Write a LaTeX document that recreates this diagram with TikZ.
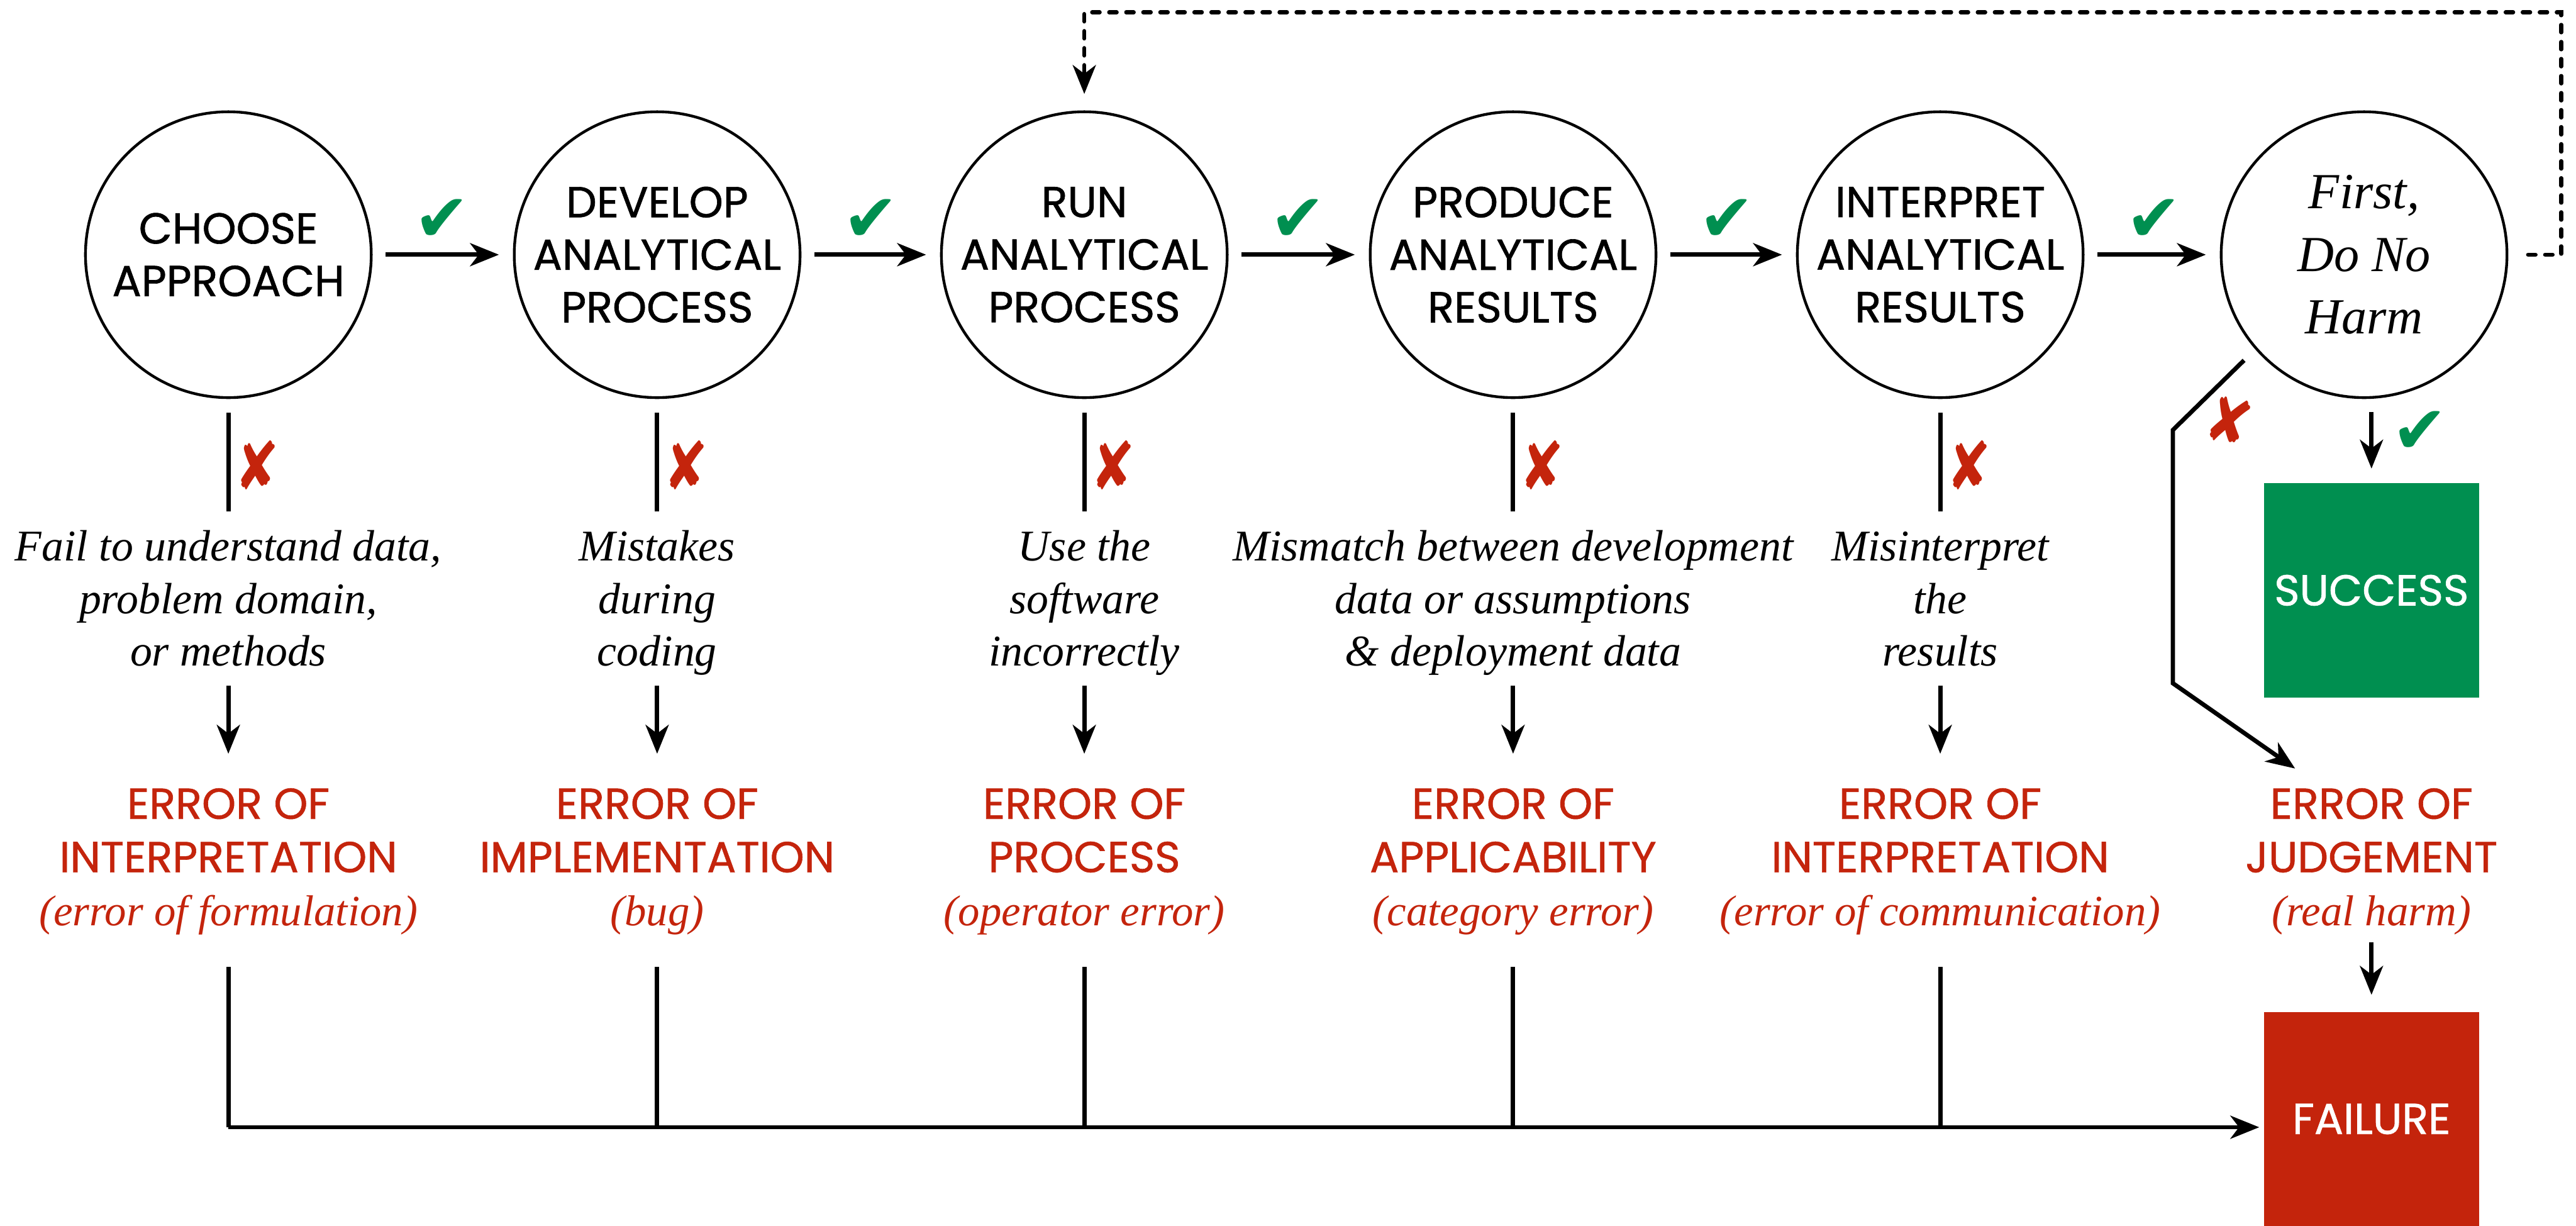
\documentclass[tikz,border=0pt]{standalone}
\usepackage{fontspec}
\usetikzlibrary{arrows.meta}
\setmainfont{Liberation Serif}
\newfontfamily\geomsans[FakeBold=0.9]{Poppins}
\newfontfamily\symfont{DejaVu Sans}
\definecolor{errred}{RGB}{196,36,12}
\definecolor{okgreen}{RGB}{0,143,80}

\begin{document}
\begin{tikzpicture}[x=0.02cm, y=-0.02cm,
  stage/.style={circle, draw, line width=0.95pt, minimum size=3.48cm, inner sep=0pt,
    align=center, font=\geomsans\fontsize{15}{18.2}\selectfont},
  tip/.style={-{Stealth[length=10pt,width=8pt,inset=3pt]}},
  flow/.style={line width=1.5pt, tip},
  plain/.style={line width=1.5pt},
  loopline/.style={line width=1.4pt, line cap=round, dash pattern=on 2.6pt off 3.3pt, tip},
  desc/.style={align=center, inner sep=0pt, anchor=north,
    font=\itshape\fontsize{15.2}{18.2}\selectfont},
  errlab/.style={align=center, inner sep=0pt, anchor=north, text=errred,
    font=\fontsize{15}{18.5}\selectfont},
  okmark/.style={inner sep=0pt, text=okgreen, font=\symfont\fontsize{23}{23}\selectfont},
  nomark/.style={inner sep=0pt, text=errred, xscale=0.8, font=\symfont\fontsize{23}{23}\selectfont},
  outcome/.style={inner sep=0pt, minimum width=2.62cm, minimum height=2.61cm, text=white,
    font=\geomsans\fontsize{15}{18}\selectfont}
]
\useasboundingbox (0,0) rectangle (1568,746);

% stages of the analysis
\node[stage] (c1) at (139,155) {CHOOSE\\APPROACH};
\node[stage] (c2) at (400,155) {DEVELOP\\ANALYTICAL\\PROCESS};
\node[stage] (c3) at (660,155) {RUN\\ANALYTICAL\\PROCESS};
\node[stage] (c4) at (921,155) {PRODUCE\\ANALYTICAL\\RESULTS};
\node[stage] (c5) at (1181,155) {INTERPRET\\ANALYTICAL\\RESULTS};
\node[stage, font=\itshape\fontsize{17.5}{21.6}\selectfont] (harm) at (1439,155) {First,\\Do No\\Harm};

% forward arrows with checks
\foreach \a/\b in {c1/c2, c2/c3, c3/c4, c4/c5, c5/harm}
  \draw[flow, shorten <=0.16cm, shorten >=0.17cm] (\a) -- (\b);
\node[okmark] (k1) at (269,134) {✔};
\node[okmark] (k2) at (530,134) {✔};
\node[okmark] (k3) at (790,134) {✔};
\node[okmark] (k4) at (1051,134) {✔};
\node[okmark] (k5) at (1311,134) {✔};

% loop back to running the process
\coordinate (loopA) at (1559,155);
\coordinate (loopB) at (1559,7.5);
\coordinate (loopC) at (660,7.5);
\draw[loopline, shorten <=0.24cm, shorten >=0.2cm] (harm) -- (loopA) -- (loopB) -- (loopC) -- (c3);

% what can go wrong at each stage
\node[desc] (d1) at (139,318.6) {\strut Fail to understand data,\\problem domain,\\or methods\strut};
\node[desc] (d2) at (400,318.6) {\strut Mistakes\\during\\coding\strut};
\node[desc] (d3) at (660,318.6) {\strut Use the\\software\\incorrectly\strut};
\node[desc] (d4) at (921,318.6) {\strut Mismatch between development\\data or assumptions\\\& deployment data\strut};
\node[desc] (d5) at (1181,318.6) {\strut Misinterpret\\the\\results\strut};

\node[nomark] (x1) at (156.5,283) {✘};
\node[nomark] (x2) at (417.5,283) {✘};
\node[nomark] (x3) at (677.5,283) {✘};
\node[nomark] (x4) at (938.5,283) {✘};
\node[nomark] (x5) at (1198.5,283) {✘};

% kinds of error
\node[errlab] (e1) at (139,475.2) {{\geomsans\strut ERROR OF}\\{\geomsans INTERPRETATION}\\{\itshape (error of formulation)\strut}};
\node[errlab] (e2) at (400,475.2) {{\geomsans\strut ERROR OF}\\{\geomsans IMPLEMENTATION}\\{\itshape (bug)\strut}};
\node[errlab] (e3) at (660,475.2) {{\geomsans\strut ERROR OF}\\{\geomsans PROCESS}\\{\itshape (operator error)\strut}};
\node[errlab] (e4) at (921,475.2) {{\geomsans\strut ERROR OF}\\{\geomsans APPLICABILITY}\\{\itshape (category error)\strut}};
\node[errlab] (e5) at (1181,475.2) {{\geomsans\strut ERROR OF}\\{\geomsans INTERPRETATION}\\{\itshape (error of communication)\strut}};
\node[errlab] (e6) at (1443.5,475.2) {{\geomsans\strut ERROR OF}\\{\geomsans JUDGEMENT}\\{\itshape (real harm)\strut}};

\foreach \i in {1,...,5} {
  \draw[plain, shorten <=0.17cm, shorten >=0.15cm] (c\i) -- (d\i);
  \draw[flow, shorten <=0.04cm, shorten >=0.33cm] (d\i) -- (e\i);
}

% outcomes
\node[outcome, fill=okgreen] (success) at (1443.5,359.25) {SUCCESS};
\node[outcome, fill=errred] (failure) at (1443.5,681) {FAILURE};

\draw[flow, shorten <=0.16cm, shorten >=0.17cm] (harm.south -| success.north) -- (success.north);
\node[okmark] (k6) at (1473,263) {✔};

\coordinate (jB) at (1322.6,261.7);
\coordinate (jC) at (1322.6,415.8);
\coordinate (jD) at (1397,467.7);
\draw[flow, shorten <=0.19cm] (harm.221) -- (jB) -- (jC) -- (jD);
\node[nomark, rotate=-15] (x6) at (1357,256) {✘};

\draw[flow, shorten >=0.2cm] (e6) -- (failure);

% every error ends in failure
\coordinate (bus1) at (139,686);
\coordinate (bus2) at (400,686);
\coordinate (bus3) at (660,686);
\coordinate (bus4) at (921,686);
\coordinate (bus5) at (1181,686);
\foreach \i in {1,...,5}
  \draw[plain, shorten <=0.3cm] (e\i) -- (bus\i);
\draw[flow, shorten >=0.05cm] (bus1) -- (bus1 -| failure.west);
\end{tikzpicture}
\end{document}
